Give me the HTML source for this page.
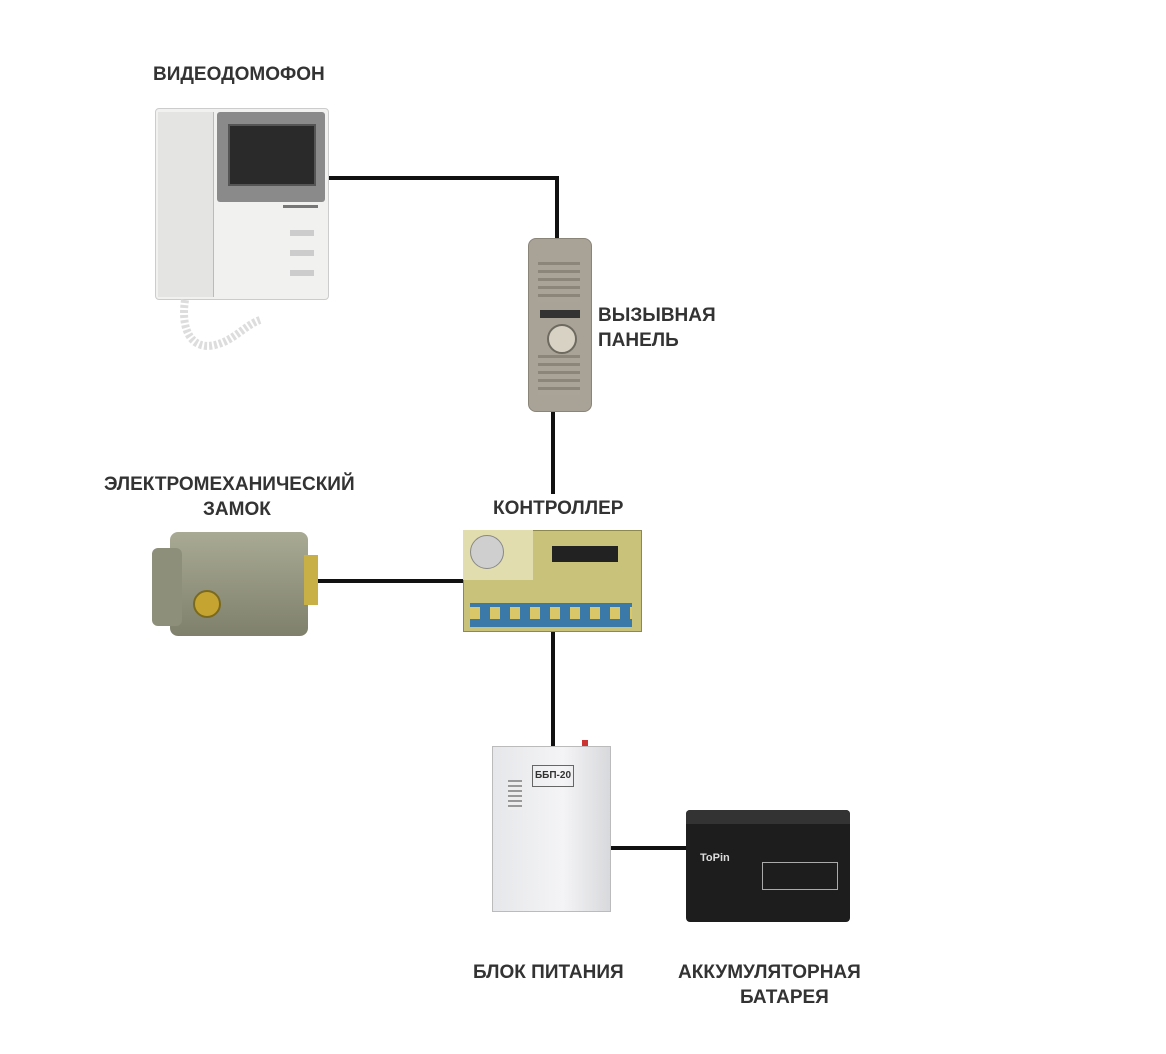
<!DOCTYPE html>
<html><head><meta charset="utf-8"><style>
body{margin:0;background:#fff;}
#c{position:relative;width:1166px;height:1054px;overflow:hidden;font-family:"Liberation Sans","Noto Sans CJK SC",sans-serif;}
.t{position:absolute;font-weight:bold;font-size:19px;color:#333;white-space:nowrap;line-height:25px;}
.a{position:absolute;}
.w{position:absolute;background:#111;}
</style></head><body><div id="c">
<div class="w" style="left:325px;top:176px;width:234px;height:4px"></div>
<div class="w" style="left:555px;top:176px;width:4px;height:64px"></div>
<div class="w" style="left:551px;top:412px;width:4px;height:82px"></div>
<div class="w" style="left:316px;top:579px;width:148px;height:4px"></div>
<div class="w" style="left:551px;top:630px;width:4px;height:116px"></div>
<div class="w" style="left:608px;top:846px;width:80px;height:4px"></div>

<div class="t" style="left:153px;top:62px">ВИДЕОДОМОФОН</div>
<div class="a" style="left:155px;top:108px;width:172px;height:190px;background:#f1f1ef;border:1px solid #ccc;border-radius:4px"></div>
<div class="a" style="left:158px;top:112px;width:55px;height:185px;background:#e4e4e2;border-right:1px solid #bbb"></div>
<div class="a" style="left:217px;top:112px;width:108px;height:90px;background:#8a8a8a;border-radius:3px"></div>
<div class="a" style="left:228px;top:124px;width:84px;height:58px;background:#2a2a2a;border:2px solid #555"></div>
<div class="a" style="left:283px;top:205px;width:35px;height:3px;background:#777"></div>
<div class="a" style="left:290px;top:230px;width:24px;height:6px;background:#ccc"></div>
<div class="a" style="left:290px;top:250px;width:24px;height:6px;background:#ccc"></div>
<div class="a" style="left:290px;top:270px;width:24px;height:6px;background:#ccc"></div>
<svg class="a" style="left:175px;top:295px" width="100" height="80"><path d="M10 5 C5 40,20 55,40 50 C60 45,70 30,85 25" stroke="#ddd" stroke-width="8" fill="none" stroke-dasharray="3 2"/></svg>

<div class="a" style="left:528px;top:238px;width:62px;height:172px;background:#a9a397;border-radius:8px;border:1px solid #8b8579"></div>
<div class="a" style="left:538px;top:262px;width:42px;height:40px;background:repeating-linear-gradient(#8c867a 0 3px,#aaa498 3px 8px)"></div>
<div class="a" style="left:538px;top:355px;width:42px;height:40px;background:repeating-linear-gradient(#8c867a 0 3px,#aaa498 3px 8px)"></div>
<div class="a" style="left:547px;top:324px;width:26px;height:26px;border-radius:50%;background:#d8d2c5;border:2px solid #6e6a60"></div>
<div class="a" style="left:540px;top:310px;width:40px;height:8px;background:#333"></div>
<div class="t" style="left:598px;top:303px">ВЫЗЫВНАЯ</div>
<div class="t" style="left:598px;top:328px">ПАНЕЛЬ</div>

<div class="t" style="left:104px;top:472px">ЭЛЕКТРОМЕХАНИЧЕСКИЙ</div>
<div class="t" style="left:203px;top:497px">ЗАМОК</div>
<div class="a" style="left:170px;top:532px;width:138px;height:104px;background:linear-gradient(#a9aa94,#7f806c);border-radius:8px"></div>
<div class="a" style="left:152px;top:548px;width:30px;height:78px;background:#8e8f7a;border-radius:6px"></div>
<div class="a" style="left:304px;top:555px;width:14px;height:50px;background:#c8b046"></div>
<div class="a" style="left:193px;top:590px;width:24px;height:24px;border-radius:50%;background:#c5a431;border:2px solid #7a6a20"></div>

<div class="t" style="left:493px;top:496px">КОНТРОЛЛЕР</div>
<div class="a" style="left:463px;top:530px;width:177px;height:100px;background:#c9c27a;border:1px solid #8c8850"></div>
<div class="a" style="left:463px;top:530px;width:70px;height:50px;background:#e1ddae"></div>
<div class="a" style="left:470px;top:535px;width:32px;height:32px;border-radius:50%;background:#cfcfcf;border:1px solid #888"></div>
<div class="a" style="left:552px;top:546px;width:66px;height:16px;background:#222"></div>
<div class="a" style="left:470px;top:603px;width:162px;height:24px;background:#3a79a8"></div>
<div class="a" style="left:470px;top:607px;width:162px;height:12px;background:repeating-linear-gradient(90deg,#d9c768 0 10px,#3a79a8 10px 20px)"></div>

<div class="a" style="left:492px;top:746px;width:117px;height:164px;background:linear-gradient(90deg,#e6e7ea,#f4f4f6 60%,#d8d9dc);border:1px solid #bbb"></div>
<div class="a" style="left:532px;top:765px;width:40px;height:20px;border:1px solid #666;font:bold 10px 'Liberation Sans',sans-serif;color:#333;text-align:center;line-height:20px">ББП-20</div>
<div class="a" style="left:508px;top:780px;width:14px;height:30px;background:repeating-linear-gradient(#999 0 2px,#eee 2px 5px)"></div>
<div class="a" style="left:582px;top:740px;width:6px;height:6px;background:#c33"></div>
<div class="t" style="left:473px;top:960px">БЛОК ПИТАНИЯ</div>

<div class="a" style="left:686px;top:810px;width:164px;height:112px;background:#1d1d1d;border-radius:4px"></div>
<div class="a" style="left:686px;top:810px;width:164px;height:14px;background:#333;border-radius:4px 4px 0 0"></div>
<div class="a" style="left:700px;top:852px;font:bold 11px 'Liberation Sans',sans-serif;color:#ddd">ToPin</div>
<div class="a" style="left:762px;top:862px;width:74px;height:26px;border:1px solid #aaa"></div>
<div class="t" style="left:678px;top:960px">АККУМУЛЯТОРНАЯ</div>
<div class="t" style="left:740px;top:985px">БАТАРЕЯ</div>
</div></body></html>
